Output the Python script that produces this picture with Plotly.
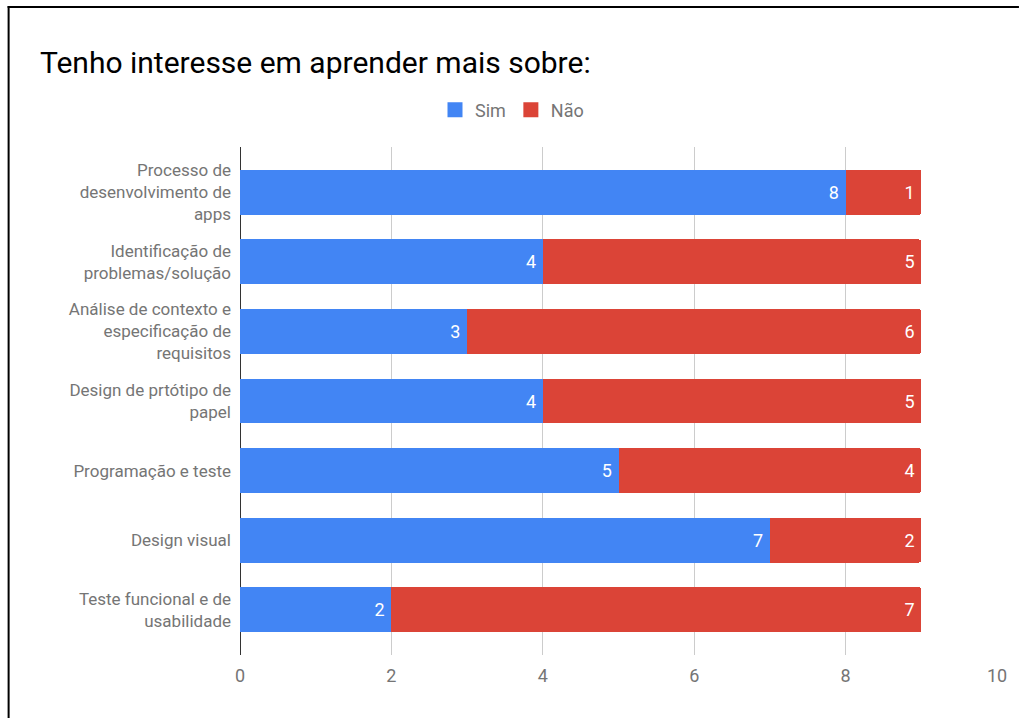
import plotly.graph_objects as go

categories = [
    "Processo de<br>desenvolvimento de<br>apps",
    "Identificação de<br>problemas/solução",
    "Análise de contexto e<br>especificação de<br>requisitos",
    "Design de prtótipo de<br>papel",
    "Programação e teste",
    "Design visual",
    "Teste funcional e de<br>usabilidade",
]
sim = [8, 4, 3, 4, 5, 7, 2]
nao = [1, 5, 6, 5, 4, 2, 7]
x_ticks = [0, 2, 4, 6, 8, 10]

BLUE = "#4285F4"
RED = "#DB4437"
FONT = "Roboto"

fig = go.Figure()
for name, vals, color in [("Sim", sim, BLUE), ("Não", nao, RED)]:
    fig.add_trace(go.Bar(
        y=categories, x=vals, name=name, orientation="h", showlegend=False,
        marker=dict(color=color, line=dict(width=0)),
        text=[str(v) + "\u2009" for v in vals], textposition="inside",
        insidetextanchor="end",
        textfont=dict(color="white", size=18, family=FONT),
    ))
for name, color in [("Sim", BLUE), ("Não", RED)]:
    fig.add_trace(go.Scatter(
        x=[None], y=[None], mode="markers", name=name,
        marker=dict(symbol="square", size=15, color=color),
    ))

W, H = 1019, 718
L, R, T, B = 240, 1019 - 999, 147, 718 - 655
pw, ph = W - L - R, H - T - B

def px_x(p):
    return (p - L) / pw

def px_y(p):
    return (H - B - p) / ph

fig.update_layout(
    width=W, height=H,
    barmode="stack",
    bargap=1 - 45 / 69.67,
    barcornerradius=3,
    paper_bgcolor="white", plot_bgcolor="white",
    margin=dict(l=L, r=R, t=T, b=B),
    font=dict(family=FONT, color="#757575", size=18),
    title=dict(
        text="Tenho interesse em aprender mais sobre:",
        x=40 / W, xanchor="left", xref="container",
        y=1 - 62 / H, yanchor="middle", yref="container",
        font=dict(family=FONT, size=30, color="#000000"),
    ),
    legend=dict(
        orientation="h", x=512 / W, xanchor="center", xref="container",
        y=1 - 110 / H, yanchor="middle", yref="container",
        font=dict(family=FONT, size=18, color="#757575"),
        traceorder="normal", itemwidth=30,
    ),
    xaxis=dict(
        range=[0, 10], tickvals=x_ticks, ticktext=[str(v) for v in x_ticks],
        showgrid=True, gridcolor="#cccccc", gridwidth=1,
        zeroline=True, zerolinecolor="#333333", zerolinewidth=1,
        showline=False, ticks="", ticklabelstandoff=8,
        tickfont=dict(size=18, color="#757575", family=FONT),
    ),
    yaxis=dict(
        autorange=False, range=[6.65, -0.65],
        categoryorder="array", categoryarray=categories,
        showgrid=False, zeroline=False, showline=False, ticks="",
        ticklabelstandoff=8,
        tickfont=dict(size=17, color="#757575", family=FONT),
    ),
    shapes=[
        dict(type="line", xref="paper", yref="paper",
             x0=px_x(8), x1=px_x(8), y0=px_y(720), y1=px_y(6),
             line=dict(color="black", width=2)),
        dict(type="line", xref="paper", yref="paper",
             x0=px_x(7), x1=px_x(1021), y0=px_y(7), y1=px_y(7),
             line=dict(color="black", width=2)),
    ],
)

fig.write_html(
    "out.html",
    config={"displayModeBar": False},
    post_script="document.body.style.margin='0';document.body.style.overflow='hidden';",
)
